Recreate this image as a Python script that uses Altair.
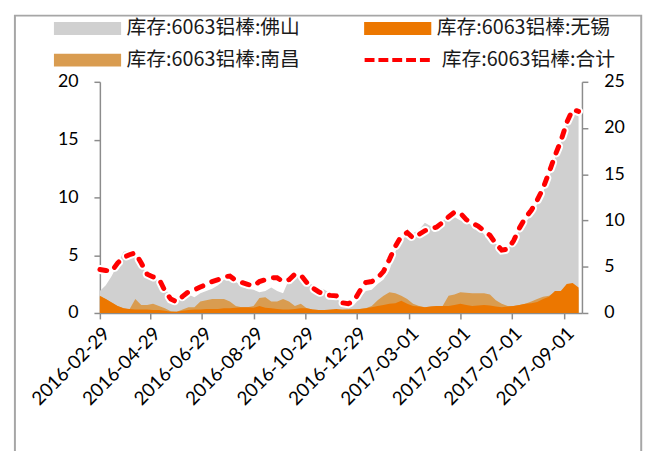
import altair as alt
import pandas as pd

# ---------------- data ----------------
dates = pd.date_range("2016-02-29", periods=82, freq="7D").strftime("%Y-%m-%d").tolist()

foshan = [1.9, 2.4, 3.2, 4.2, 5.3, 5.4, 4.8, 4.0, 3.5, 3.2,
          2.8, 2.1, 1.5, 1.1, 1.3, 1.6, 1.35, 1.7, 1.9, 2.1,
          2.4, 2.9, 2.9, 2.7, 2.3, 2.1, 2.0, 1.8, 1.9, 2.2,
          1.9, 1.7, 2.9, 3.2, 3.0, 2.8, 2.4, 2.2, 2.0, 1.7,
          1.2, 0.9, 0.5, 0.7, 1.3, 1.9, 2.0, 2.5, 2.9, 3.7,
          5.3, 6.2, 6.8, 6.9, 7.2, 7.8, 7.5, 7.7, 8.0, 8.3,
          8.3, 8.0, 8.0, 7.5, 7.5, 6.8, 6.6, 6.0, 5.6, 5.6,
          6.3, 7.2, 7.8, 8.5, 9.4, 10.5, 11.7, 13.4, 14.7, 16.5,
          17.3, 17.0]

nanchang = [1.4, 1.2, 0.9, 0.6, 0.4, 0.3, 1.2, 0.7, 0.7, 0.8,
            0.6, 0.4, 0.15, 0.1, 0.3, 0.5, 0.5, 1.0, 1.1, 1.2,
            1.2, 1.2, 1.0, 0.6, 0.5, 0.5, 0.6, 1.3, 1.35, 1.0,
            1.0, 1.2, 1.0, 0.6, 0.8, 0.4, 0.3, 0.25, 0.25, 0.25,
            0.25, 0.25, 0.3, 0.35, 0.35, 0.4, 0.6, 1.1, 1.5, 1.8,
            1.7, 1.5, 1.2, 0.8, 0.6, 0.5, 0.55, 0.6, 0.6, 1.5,
            1.6, 1.8, 1.75, 1.7, 1.7, 1.7, 1.6, 1.1, 0.8, 0.6,
            0.6, 0.7, 0.8, 1.0, 1.2, 1.4, 1.5, 1.8, 1.9, 2.0,
            2.0, 2.0]

wuxi = [1.5, 1.2, 0.9, 0.6, 0.4, 0.35, 0.3, 0.3, 0.3, 0.25,
        0.25, 0.2, 0.1, 0.1, 0.2, 0.25, 0.3, 0.3, 0.35, 0.35,
        0.35, 0.4, 0.4, 0.45, 0.5, 0.5, 0.45, 0.6, 0.45, 0.4,
        0.35, 0.3, 0.3, 0.35, 0.4, 0.4, 0.3, 0.25, 0.25, 0.3,
        0.35, 0.3, 0.3, 0.3, 0.35, 0.4, 0.5, 0.6, 0.7, 0.8,
        0.85, 1.05, 0.8, 0.6, 0.55, 0.5, 0.55, 0.6, 0.6, 0.6,
        0.7, 0.8, 0.7, 0.6, 0.65, 0.7, 0.65, 0.55, 0.5, 0.55,
        0.6, 0.7, 0.8, 0.85, 0.95, 1.2, 1.4, 1.9, 1.9, 2.5,
        2.6, 2.2]

total = [4.7, 4.6, 4.5, 5.4, 6.0, 6.3, 6.5, 5.4, 4.2, 3.9,
         3.7, 2.4, 1.5, 1.2, 1.8, 2.3, 2.5, 2.8, 3.1, 3.4,
         3.6, 3.9, 4.0, 3.5, 3.3, 3.1, 2.9, 3.4, 3.6, 3.8,
         3.8, 3.4, 3.6, 4.2, 4.1, 3.3, 2.7, 2.3, 2.0, 1.9,
         1.85, 1.1, 1.0, 1.3, 2.4, 3.3, 3.4, 3.8, 4.5, 5.8,
         7.2, 8.3, 8.7, 8.1, 8.5, 8.9, 9.1, 9.3, 9.8, 10.4,
         10.9, 10.8, 10.1, 9.7, 9.4, 8.9, 8.4, 7.5, 6.8, 6.9,
         7.8, 9.2, 10.3, 11.1, 12.2, 13.5, 15.2, 17.0, 18.6, 20.6,
         22.0, 21.8]

FS = "库存:6063铝棒:佛山"
WX = "库存:6063铝棒:无锡"
NC = "库存:6063铝棒:南昌"
HJ = "库存:6063铝棒:合计"
area_names = [FS, WX, NC]
area_colors = ["#D0D0D0", "#EC7700", "#D99C50"]
line_color = "#FF0000"

tick_dates = [(2016, 2, 29), (2016, 4, 29), (2016, 6, 29), (2016, 8, 29), (2016, 10, 29),
              (2016, 12, 29), (2017, 3, 1), (2017, 5, 1), (2017, 7, 1), (2017, 9, 1)]

rows = []
for name, vals in [(FS, foshan), (WX, wuxi), (NC, nanchang), (HJ, total)]:
    for d, v in zip(dates, vals):
        rows.append({"date": d, "series": name, "value": v})
df = pd.DataFrame(rows)

# ---------------- encodings ----------------
FONT = "Lato"
LFONT = "Noto Sans CJK SC"
AX_COL = "#8C8C8C"

x_enc = alt.X(
    "date:T",
    scale=alt.Scale(type="utc", nice=False,
                    domain=[alt.DateTime(year=2016, month=2, date=29, utc=True),
                            alt.DateTime(year=2017, month=9, date=22, utc=True)]),
    axis=alt.Axis(
        title=None, grid=False, format="%Y-%m-%d", labelAngle=-45,
        values=[alt.DateTime(year=y, month=m, date=d, utc=True) for (y, m, d) in tick_dates],
        labelFontSize=19, labelPadding=5, tickSize=6, labelOverlap=False,
        labelFlush=False,
    ),
)

# wide flat rectangle symbol: unit scale r = sqrt(size)/2 = 6.5 -> 68 x 13 px
fill_legend = alt.Legend(
    title=None, orient="none", direction="horizontal", legendX=-22.5, legendY=-64,
    columns=2,
    symbolType="M-5.23,-1H5.23V1H-5.23Z", symbolSize=169, symbolStrokeWidth=0,
    symbolOpacity=1,
    labelFont=LFONT, labelFontSize=20, labelColor="#1a1a1a",
    labelOffset=29.5, columnPadding=64, rowPadding=12, labelLimit=400,
)
stroke_legend = alt.Legend(
    title=None, orient="none", legendX=266, legendY=-58,
    symbolType="stroke", symbolSize=4624, symbolStrokeWidth=4,
    symbolDash=[10, 4], symbolOpacity=1,
    labelFont=LFONT, labelFontSize=20, labelColor="#1a1a1a",
    labelOffset=8, labelLimit=400,
)

fill_enc = alt.Fill("series:N",
                    scale=alt.Scale(domain=area_names, range=area_colors),
                    legend=fill_legend)
stroke_enc = alt.Stroke("series:N",
                        scale=alt.Scale(domain=[HJ], range=[line_color]),
                        legend=stroke_legend)

y_left = alt.Y("value:Q", scale=alt.Scale(domain=[0, 20], nice=False),
               axis=alt.Axis(title=None, grid=False, orient="left",
                             values=[0, 5, 10, 15, 20], labelPadding=16, tickSize=6))
y_right = alt.Y("value:Q", scale=alt.Scale(domain=[0, 25], nice=False),
                axis=alt.Axis(title=None, grid=False, orient="right",
                              values=[0, 5, 10, 15, 20, 25], labelPadding=16, tickSize=6))

base = alt.Chart(df)


def area_layer(name):
    return base.transform_filter(alt.datum.series == name).mark_area(
        opacity=1, interpolate="linear"
    ).encode(x=x_enc, y=y_left, fill=fill_enc)


areas = alt.layer(area_layer(FS), area_layer(NC), area_layer(WX))

halo = base.transform_filter(alt.datum.series == HJ).mark_line(
    color="white", strokeWidth=9, strokeDash=[7, 10], strokeCap="round"
).encode(x=x_enc, y=y_right)
line = base.transform_filter(alt.datum.series == HJ).mark_line(
    strokeWidth=5, strokeDash=[7, 10], strokeCap="round"
).encode(x=x_enc, y=y_right, stroke=stroke_enc)
lines = alt.layer(halo, line)

frame = alt.Chart(alt.Data(values=[{"k": 1}])).mark_rect(
    fill="transparent", stroke="#A6A6A6", strokeWidth=2
).encode(x=alt.value(-86), x2=alt.value(548), y=alt.value(-67), y2=alt.value(400))

chart = alt.layer(areas, lines).resolve_scale(y="independent")
chart = alt.layer(chart, frame).properties(
    width=488, height=234,
    padding={"left": 93, "top": 72, "right": 78, "bottom": 137},
    autosize=alt.AutoSizeParams(type="none"),
).configure_view(stroke=None).configure_axis(
    labelFont=FONT, labelFontSize=18, labelColor="black",
    domainColor=AX_COL, tickColor=AX_COL, domainWidth=1.5, tickWidth=1.5,
)

chart.save("out.html", embed_options={"renderer": "svg", "actions": False})
